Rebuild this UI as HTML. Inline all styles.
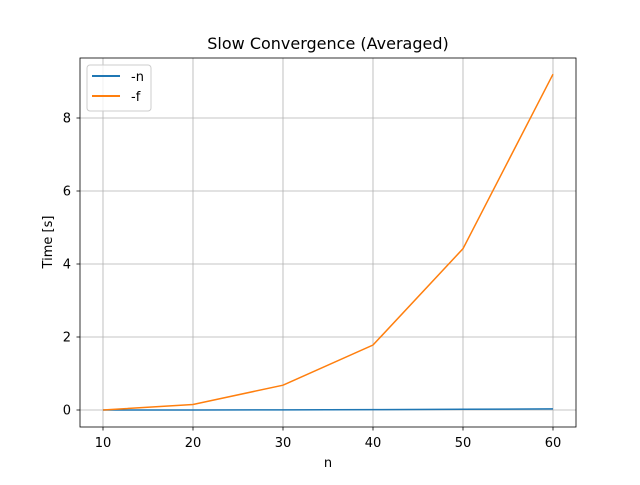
<!DOCTYPE html>
<html><head><meta charset="utf-8">
<style>
body{margin:0;background:#fff;}
svg text{font-family:"DejaVu Sans","Liberation Sans",sans-serif;}
</style></head>
<body>
<svg id="chart" width="640" height="480" xmlns="http://www.w3.org/2000/svg">
<rect width="640" height="480" fill="#fff"/>
<g id="grid"></g>
<g id="lines"></g>
<rect x="80" y="58" width="496" height="369" fill="none" stroke="#000" stroke-width="0.8"/>
<g id="ticks"></g>
<text x="328" y="49" text-anchor="middle" font-size="16">Slow Convergence (Averaged)</text>
<text x="328" y="467" text-anchor="middle" font-size="13">n</text>
<text transform="translate(52,242) rotate(-90)" text-anchor="middle" font-size="13">Time [s]</text>
<g>
<rect x="87" y="65" width="64" height="46" rx="3" fill="#fff" fill-opacity="0.8" stroke="#ccc"/>
<g><line x1="92" y1="76" x2="120" y2="76" stroke="#1f77b4" stroke-width="2"/><text x="131" y="81" font-size="13">-n</text></g>
<g><line x1="92" y1="96" x2="120" y2="96" stroke="#ff7f0e" stroke-width="2"/><text x="131" y="101" font-size="13">-f</text></g>
</g>
</svg>
<script>
const categories=[10,20,30,40,50,60];
const seriesN=[0.0,0.0,0.005,0.01,0.02,0.03];
const seriesF=[0.0,0.15,0.68,1.78,4.42,9.2];
const xTicks=[10,20,30,40,50,60];
const yTicks=[0,2,4,6,8];
const NS="http://www.w3.org/2000/svg";
function xs(v){return 103+(v-10)*9;}
function ys(v){return 410-v*36.5;}
const grid=document.getElementById('grid'),ticks=document.getElementById('ticks'),lines=document.getElementById('lines');
function mk(tag,attrs,parent){const e=document.createElementNS(NS,tag);for(const k in attrs)e.setAttribute(k,attrs[k]);parent.appendChild(e);return e;}
xTicks.forEach(t=>{
  const g=mk('line',{x1:xs(t),x2:xs(t),y1:58,y2:427,stroke:'#b0b0b0','stroke-width':0.8},grid);
  
  
  mk('line',{x1:xs(t),x2:xs(t),y1:427,y2:430.5,stroke:'#000','stroke-width':0.8},ticks);
  const tx=mk('text',{x:xs(t),y:447,'text-anchor':'middle','font-size':13},ticks);
  tx.textContent=t;
  
  
});
yTicks.forEach(t=>{
  const g=mk('line',{x1:80,x2:576,y1:ys(t),y2:ys(t),stroke:'#b0b0b0','stroke-width':0.8},grid);
  
  
  mk('line',{x1:76.5,x2:80,y1:ys(t),y2:ys(t),stroke:'#000','stroke-width':0.8},ticks);
  const tx=mk('text',{x:71,y:ys(t)+4.5,'text-anchor':'end','font-size':13},ticks);
  tx.textContent=t;
  
  
});
function line(data,color,name){
  const p=mk('polyline',{points:data.map((v,i)=>xs(categories[i])+','+ys(v)).join(' '),fill:'none',stroke:color,'stroke-width':1.5},lines);
  
  
}
line(seriesN,'#1f77b4','line-n');
line(seriesF,'#ff7f0e','line-f');
</script>
</body></html>
